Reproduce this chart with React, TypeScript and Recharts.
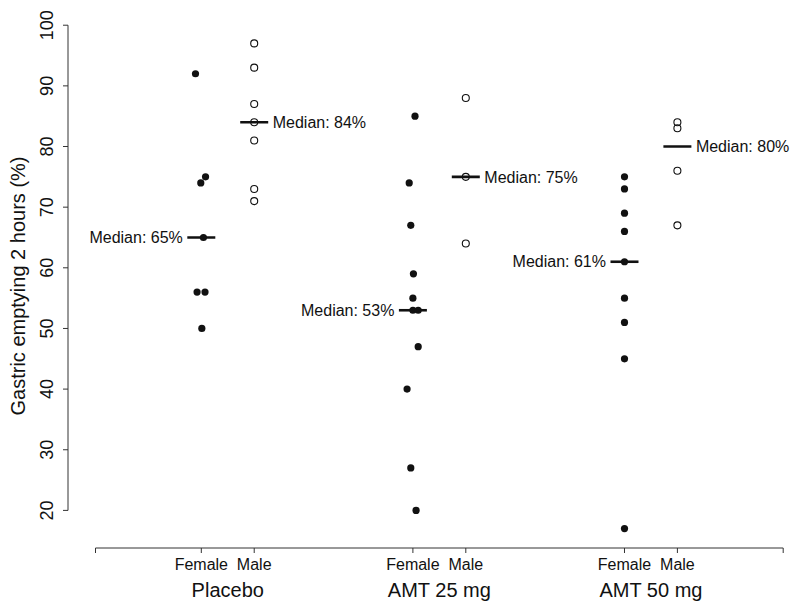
import React from 'react'
import { ScatterChart, Scatter, XAxis, YAxis, ReferenceLine, ReferenceDot } from 'recharts'

// groups and where each sex sits on the x scale (R-style "at" positions)
const groups = ['Placebo', 'AMT 25 mg', 'AMT 50 mg']
const sexes = ['Female', 'Male']
const femalePos = [2, 6, 10]
const malePos = [3, 7, 11]
const axisEnds = [0, 13]
const yTicks = [20, 30, 40, 50, 60, 70, 80, 90, 100]

// gastric emptying at 2 h (%)
const placeboFemale = [92, 75, 74, 65, 56, 56, 50]
const placeboFemaleJitter = [-0.11, 0.08, -0.01, 0.04, -0.08, 0.07, 0.01]
const placeboMale = [97, 93, 87, 84, 81, 73, 71]

const amt25Female = [85, 74, 67, 59, 55, 53, 53, 47, 40, 27, 20]
const amt25FemaleJitter = [0.04, -0.07, -0.04, 0.01, 0, 0, 0.1, 0.1, -0.11, -0.04, 0.06]
const amt25Male = [88, 75, 64]

const amt50Female = [75, 73, 69, 66, 61, 55, 51, 45, 17]
const amt50Male = [84, 83, 76, 67]

const medianFemale = [65, 53, 61]
const medianMale = [84, 75, 80]

const Y_MIN = 13.8
const Y_MAX = 100.2

const femaleSets = [placeboFemale, amt25Female, amt50Female]
const femaleJitter = [placeboFemaleJitter, amt25FemaleJitter, []]
const maleSets = [placeboMale, amt25Male, amt50Male]

const femaleData = femaleSets.flatMap((vals, g) =>
  vals.map((y, i) => ({ x: femalePos[g] + ((femaleJitter[g] as number[])[i] ?? 0), y }))
)
const maleData = maleSets.flatMap((vals, g) => vals.map((y) => ({ x: malePos[g], y })))
const medianData = [
  ...medianFemale.map((y, g) => ({ x: femalePos[g], y, side: 'left' })),
  ...medianMale.map((y, g) => ({ x: malePos[g], y, side: 'right' })),
]

const FONT = '"Liberation Sans", Arial, Helvetica, sans-serif'
const INK = '#111'

const SolidDot = (p: any) => <circle cx={p.cx} cy={p.cy} r={3.6} fill={INK} />
const OpenDot = (p: any) => (
  <circle cx={p.cx} cy={p.cy} r={3.5} fill="none" stroke={INK} strokeWidth={1.1} />
)

const MedianMark = (p: any) => {
  const { cx, cy, payload } = p
  const left = payload.side === 'left'
  return (
    <g>
      <line x1={cx - 14} x2={cx + 14} y1={cy} y2={cy} stroke={INK} strokeWidth={2.6} />
      <text
        x={left ? cx - 18.5 : cx + 18.5}
        y={cy}
        dy={5.7}
        textAnchor={left ? 'end' : 'start'}
        fontSize={16}
        fontFamily={FONT}
        fill={INK}
      >
        {`Median: ${payload.y}%`}
      </text>
    </g>
  )
}

const SexTick = (p: any) => {
  const v = p.payload.value
  let label = ''
  if (femalePos.includes(v)) label = sexes[0]
  if (malePos.includes(v)) label = sexes[1]
  if (!label) return null
  return (
    <text x={p.x} y={p.y} dy={15} textAnchor="middle" fontSize={16} fontFamily={FONT} fill={INK}>
      {label}
    </text>
  )
}

// group name under each Female/Male pair
const groupLabel = (name: string) => (p: any) => {
  const vb = p.viewBox
  const cx = vb.x + vb.width / 2
  const cy = vb.y + vb.height / 2
  return (
    <text x={cx} y={cy} dy={49} textAnchor="middle" fontSize={20} fontFamily={FONT} fill={INK}>
      {name}
    </text>
  )
}

const YTick = (p: any) => (
  <text
    x={p.x}
    y={p.y}
    transform={`rotate(-90, ${p.x}, ${p.y})`}
    textAnchor="middle"
    fontSize={18}
    fontFamily={FONT}
    fill={INK}
  >
    {p.payload.value}
  </text>
)

const YTitle = (p: any) => {
  const vb = p.viewBox
  const x = vb.x + 25
  const y = vb.y + vb.height / 2
  return (
    <text
      x={x}
      y={y}
      transform={`rotate(-90, ${x}, ${y})`}
      textAnchor="middle"
      fontSize={20}
      fontFamily={FONT}
      fill={INK}
    >
      Gastric emptying 2 hours (%)
    </text>
  )
}

export default function App() {
  return (
    <div style={{ position: 'absolute', left: 0, top: 0, background: '#fff' }}>
      <ScatterChart width={800} height={610} margin={{ top: 24, right: -10.7, bottom: 0, left: 0 }}>
        <XAxis
          type="number"
          dataKey="x"
          domain={[-0.52, 13.52]}
          allowDataOverflow
          ticks={[axisEnds[0], ...femalePos, ...malePos, axisEnds[1]].sort((a, b) => a - b)}
          interval={0}
          tickSize={5}
          tickMargin={2}
          tickLine={{ stroke: '#333' }}
          axisLine={false}
          height={62}
          tick={<SexTick />}
        />
        <YAxis
          type="number"
          dataKey="y"
          domain={[Y_MIN, Y_MAX]}
          allowDataOverflow
          ticks={yTicks}
          interval={0}
          tickSize={5}
          tickMargin={10}
          tickLine={{ stroke: '#333' }}
          axisLine={false}
          width={68}
          tick={<YTick />}
          label={<YTitle />}
        />
        <ReferenceLine
          segment={[{ x: -0.52, y: yTicks[0] }, { x: -0.52, y: yTicks[yTicks.length - 1] }]}
          stroke="#333"
          strokeWidth={1}
          ifOverflow="visible"
        />
        <ReferenceLine
          segment={[{ x: axisEnds[0], y: Y_MIN }, { x: axisEnds[1], y: Y_MIN }]}
          stroke="#333"
          strokeWidth={1}
          ifOverflow="visible"
        />
        {groups.map((name, g) => (
          <ReferenceDot
            key={name}
            x={(femalePos[g] + malePos[g]) / 2}
            y={Y_MIN}
            r={0}
            fill="none"
            stroke="none"
            ifOverflow="visible"
            label={groupLabel(name)}
          />
        ))}
        <Scatter data={medianData} shape={<MedianMark />} isAnimationActive={false} />
        <Scatter data={femaleData} shape={<SolidDot />} isAnimationActive={false} />
        <Scatter data={maleData} shape={<OpenDot />} isAnimationActive={false} />
      </ScatterChart>
    </div>
  )
}
